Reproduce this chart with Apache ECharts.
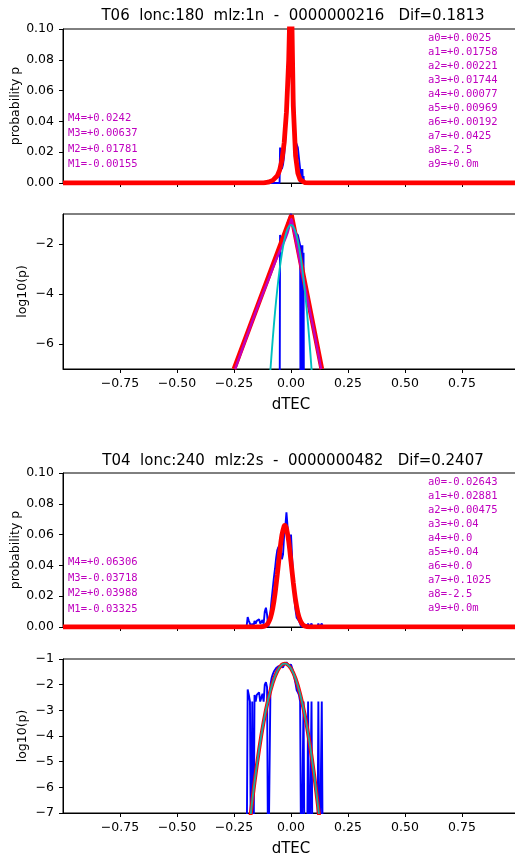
<!DOCTYPE html>
<html><head><meta charset="utf-8">
<script src="https://cdn.jsdelivr.net/npm/echarts@6/dist/echarts.min.js"></script>
<style>html,body{margin:0;padding:0;background:#fff;}#c{width:515px;height:859px;}</style>
</head><body><div id="c"></div>
<script>
// ---------- text ----------
const title1 = 'T06  lonc:180  mlz:1n  -  0000000216   Dif=0.1813';
const title2 = 'T04  lonc:240  mlz:2s  -  0000000482   Dif=0.2407';
const aLabels1 = ['a0=+0.0025','a1=+0.01758','a2=+0.00221','a3=+0.01744','a4=+0.00077','a5=+0.00969','a6=+0.00192','a7=+0.0425','a8=-2.5','a9=+0.0m'];
const mLabels1 = ['M4=+0.0242','M3=+0.00637','M2=+0.01781','M1=-0.00155'];
const aLabels2 = ['a0=-0.02643','a1=+0.02881','a2=+0.00475','a3=+0.04','a4=+0.0','a5=+0.04','a6=+0.0','a7=+0.1025','a8=-2.5','a9=+0.0m'];
const mLabels2 = ['M4=+0.06306','M3=-0.03718','M2=+0.03988','M1=-0.03325'];
const xName = 'dTEC';
const yNameLin = 'probability p';
const yNameLog = 'log10(p)';

// ---------- ticks ----------
const xTicks = [-0.75, -0.5, -0.25, 0, 0.25, 0.5, 0.75];
const yTicksLin = [0, 0.02, 0.04, 0.06, 0.08, 0.10];
const yTicksLogA = [-6, -4, -2];
const yTicksLogB = [-7, -6, -5, -4, -3, -2, -1];

// ---------- panel 1 (T06, linear) ----------
const p1BlueX = [-1, -0.05, -0.048, -0.04, -0.035, -0.03, -0.025, -0.02, -0.015, -0.01, -0.005, 0, 0.005, 0.01, 0.015, 0.02, 0.025, 0.03, 0.035, 0.04, 0.042, 0.045, 0.047, 0.05, 0.052, 0.055, 0.057, 1];
const p1BlueP = [0, 0, 0.023, 0.009, 0.012, 0.018, 0.028, 0.045, 0.07, 0.095, 0.125, 0.16, 0.115, 0.075, 0.045, 0.027, 0.027, 0.023, 0.023, 0.009, 0, 0.009, 0, 0.009, 0, 0.0045, 0, 0];
const p1RedX = [-1, -0.12, -0.1, -0.08, -0.06, -0.05, -0.04, -0.03, -0.02, -0.01, 0, 0.01, 0.02, 0.03, 0.04, 0.06, 0.08, 1];
const p1RedP = [0, 0.0001, 0.0005, 0.0017, 0.0047, 0.0083, 0.0148, 0.026, 0.046, 0.08, 0.141, 0.05, 0.0178, 0.0063, 0.0022, 0.0003, 0.00004, 0];

// ---------- panel 2 (T06, log10) ----------
const p2BlueLog = [-10, -10, -1.64, -2.05, -1.92, -1.74, -1.55, -1.35, -1.15, -1.02, -0.9, -0.8, -0.94, -1.12, -1.35, -1.57, -1.57, -1.64, -1.64, -2.05, -10, -2.05, -10, -2.05, -10, -2.35, -10, -10];
const p2RedX = [-0.25, 0.002, 0.135];
const p2RedLog = [-7.0, -0.85, -7.0];
const p2MagX = [-0.245, -0.15, -0.1, -0.06, -0.03, -0.015, -0.005, 0.002, 0.01, 0.02, 0.04, 0.07, 0.1, 0.132];
const p2MagLog = [-7.0, -4.6, -3.45, -2.5, -1.9, -1.55, -1.2, -1.0, -1.35, -1.8, -2.75, -4.1, -5.45, -7.0];
const p2CyanX = [-0.095, -0.09, -0.08, -0.07, -0.06, -0.05, -0.04, -0.03, -0.02, -0.01, 0, 0.01, 0.02, 0.03, 0.04, 0.05, 0.06, 0.07, 0.08, 0.09, 0.095];
const p2CyanLog = [-7.66, -7.0, -5.79, -4.72, -3.8, -3.02, -2.38, -1.88, -1.52, -1.31, -1.24, -1.31, -1.52, -1.88, -2.38, -3.02, -3.8, -4.72, -5.79, -7.0, -7.66];

// ---------- panel 3 (T04, linear) ----------
const p3BlueX = [-1, -0.195, -0.19, -0.185, -0.18, -0.175, -0.17, -0.165, -0.16, -0.155, -0.15, -0.145, -0.14, -0.135, -0.13, -0.125, -0.12, -0.115, -0.11, -0.105, -0.1, -0.095, -0.09, -0.085, -0.08, -0.075, -0.07, -0.065, -0.06, -0.055, -0.05, -0.045, -0.04, -0.035, -0.03, -0.025, -0.02, -0.015, -0.01, -0.005, 0, 0.005, 0.01, 0.015, 0.02, 0.025, 0.03, 0.035, 0.04, 0.045, 0.05, 0.055, 0.06, 0.065, 0.07, 0.075, 0.08, 0.085, 0.09, 0.095, 0.1, 0.105, 0.11, 0.115, 0.12, 0.125, 0.13, 0.135, 0.14, 1];
const p3BlueP = [0, 0, 0.0065, 0.004, 0.0022, 0, 0.0022, 0, 0.004, 0.0022, 0.004, 0.004, 0.005, 0.0022, 0.0022, 0.0045, 0.0022, 0.01, 0.0125, 0.008, 0, 0, 0.01, 0.018, 0.025, 0.032, 0.038, 0.045, 0.05, 0.052, 0.046, 0.05, 0.044, 0.047, 0.06, 0.065, 0.0745, 0.065, 0.057, 0.052, 0.06, 0.045, 0.03, 0.018, 0.011, 0.006, 0.005, 0.004, 0.0022, 0, 0, 0.0022, 0, 0, 0, 0.0022, 0, 0, 0.0022, 0, 0, 0, 0, 0, 0.0022, 0, 0, 0.0022, 0, 0];
const p3RedX = [-1, -0.14, -0.12, -0.11, -0.1, -0.09, -0.08, -0.07, -0.06, -0.05, -0.04, -0.03, -0.027, -0.02, -0.01, 0, 0.01, 0.02, 0.03, 0.04, 0.05, 0.06, 0.08, 1];
const p3RedP = [0, 0.00003, 0.00036, 0.00104, 0.00266, 0.00603, 0.01213, 0.02165, 0.0342, 0.048, 0.0596, 0.0656, 0.066, 0.0641, 0.0555, 0.0425, 0.0289, 0.0174, 0.0093, 0.0044, 0.00185, 0.00069, 0.00007, 0];

// ---------- panel 4 (T04, log10) ----------
const p4BlueLog = [-10, -10, -2.19, -2.4, -2.66, -10, -2.66, -10, -2.4, -2.66, -2.4, -2.4, -2.3, -2.66, -2.66, -2.35, -2.66, -2.0, -1.9, -2.1, -10, -10, -2.0, -1.74, -1.6, -1.49, -1.42, -1.35, -1.3, -1.28, -1.34, -1.3, -1.36, -1.33, -1.22, -1.19, -1.13, -1.19, -1.24, -1.28, -1.22, -1.35, -1.52, -1.74, -1.96, -2.22, -2.3, -2.4, -2.66, -10, -10, -2.66, -10, -10, -10, -2.66, -10, -10, -2.66, -10, -10, -10, -10, -10, -2.66, -10, -10, -2.66, -10, -10];
const p4FitX = [-0.18, -0.16, -0.14, -0.12, -0.1, -0.08, -0.06, -0.04, -0.027, -0.02, 0, 0.02, 0.04, 0.06, 0.08, 0.1, 0.125];
const p4FitLog = [-7.31, -5.81, -4.53, -3.45, -2.58, -1.92, -1.47, -1.22, -1.18, -1.19, -1.37, -1.76, -2.36, -3.16, -4.18, -5.41, -7.23];

// ---------- build ----------
const zip = (xs, ys) => xs.map((x, i) => [x, ys[i]]);
const FONT = '"DejaVu Sans", sans-serif';
const MONO = '"DejaVu Sans Mono", monospace';
const minus = s => String(s).replace('-', '\u2212');

const gridTops = [29, 214, 473, 659];
const gridHeights = [154, 155, 154, 154];
const grids = gridTops.map((t, i) => ({
  left: 63, top: t, width: 456, height: gridHeights[i],
  containLabel: false, outerBoundsMode: 'none',
  show: true, borderColor: '#000', borderWidth: 1, backgroundColor: 'transparent'
}));

const xAxes = [0, 1, 2, 3].map(i => ({
  type: 'value', gridIndex: i, min: -1, max: 1, interval: 0.25,
  name: (i % 2 === 1) ? xName : '', nameLocation: 'middle', nameGap: 29, nameMoveOverlap: false,
  nameTextStyle: { fontSize: 15, color: '#000', fontFamily: FONT },
  axisLine: { show: true, onZero: false, lineStyle: { color: '#000', width: 1 } },
  axisTick: { show: true, inside: false, length: 4, customValues: xTicks, lineStyle: { color: '#000', width: 1 } },
  axisLabel: {
    show: i % 2 === 1, customValues: xTicks, margin: 8, fontSize: 12.5, color: '#000', fontFamily: FONT,
    hideOverlap: false,
    formatter: v => Math.abs(v) > 0.9 ? '' : minus(v.toFixed(2))
  },
  splitLine: { show: false }
}));

function yAxis(i, min, max, ticks, name, gap, fmt) {
  return {
    type: 'value', gridIndex: i, min: min, max: max,
    name: name, nameLocation: 'middle', nameGap: gap, nameMoveOverlap: false,
    nameTextStyle: { fontSize: 12.5, color: '#000', fontFamily: FONT },
    axisLine: { show: true, onZero: false, lineStyle: { color: '#000', width: 1 } },
    axisTick: { show: true, inside: false, length: 4, customValues: ticks, lineStyle: { color: '#000' } },
    axisLabel: { customValues: ticks, margin: 9, fontSize: 12.5, color: '#000', fontFamily: FONT, formatter: fmt },
    splitLine: { show: false }
  };
}
const linFmt = v => v.toFixed(2);
const logFmt = v => minus(Math.round(v));
const yAxes = [
  yAxis(0, 0, 0.1, yTicksLin, yNameLin, 41, linFmt),
  yAxis(1, -7, -0.8, yTicksLogA, yNameLog, 34, logFmt),
  yAxis(2, 0, 0.1, yTicksLin, yNameLin, 41, linFmt),
  yAxis(3, -7, -1, yTicksLogB, yNameLog, 34, logFmt)
];

function line(i, data, color, width, smooth, z) {
  return {
    type: 'line', xAxisIndex: i, yAxisIndex: i, data: data, showSymbol: false, symbol: 'none',
    smooth: smooth || false, clip: true, animation: false, silent: true, z: z,
    lineStyle: { color: color, width: width }
  };
}
const BLUE = '#0000ff', RED = '#ff0000', MAG = '#bf00bf', CYAN = '#00bfbf', TEAL = '#1fa69c';

const series = [
  line(0, zip(p1BlueX, p1BlueP), BLUE, 1.9, false, 2),
  line(0, zip(p1RedX, p1RedP), RED, 4.8, false, 3),
  line(1, zip(p1BlueX, p2BlueLog), BLUE, 1.9, false, 2),
  line(1, zip(p2RedX, p2RedLog), RED, 4.8, false, 3),
  line(1, zip(p2MagX, p2MagLog), MAG, 2.4, 0.3, 4),
  line(1, zip(p2CyanX, p2CyanLog), CYAN, 1.9, 0.4, 5),
  line(2, zip(p3BlueX, p3BlueP), BLUE, 1.9, false, 2),
  line(2, zip(p3RedX, p3RedP), RED, 4.8, 0.3, 3),
  line(3, zip(p3BlueX, p4BlueLog), BLUE, 1.9, false, 2),
  line(3, zip(p4FitX, p4FitLog), RED, 3.8, 0.4, 3),
  line(3, zip(p4FitX, p4FitLog), TEAL, 1.9, 0.4, 4)
];

const graphics = [];
function txt(s, x, y, font, fill, align) {
  graphics.push({ type: 'text', x: x, y: y, silent: true, z: 100,
    style: { text: s, font: font, fill: fill, align: align || 'left', verticalAlign: 'middle' } });
}
txt(title1, 293, 16, '15px ' + FONT, '#000', 'center');
txt(title2, 293, 461, '15px ' + FONT, '#000', 'center');
aLabels1.forEach((s, k) => txt(s, 428, 38.3 + k * 13.95, '10.5px ' + MONO, MAG));
mLabels1.forEach((s, k) => txt(s, 68, 118.3 + k * 15.35, '10.5px ' + MONO, MAG));
aLabels2.forEach((s, k) => txt(s, 428, 482.3 + k * 13.95, '10.5px ' + MONO, MAG));
mLabels2.forEach((s, k) => txt(s, 68, 562.7 + k * 15.5, '10.5px ' + MONO, MAG));

const chart = echarts.init(document.getElementById('c'), null, { renderer: 'canvas' });
chart.setOption({
  animation: false,
  backgroundColor: '#fff',
  grid: grids, xAxis: xAxes, yAxis: yAxes, series: series, graphic: graphics
});
</script></body></html>
